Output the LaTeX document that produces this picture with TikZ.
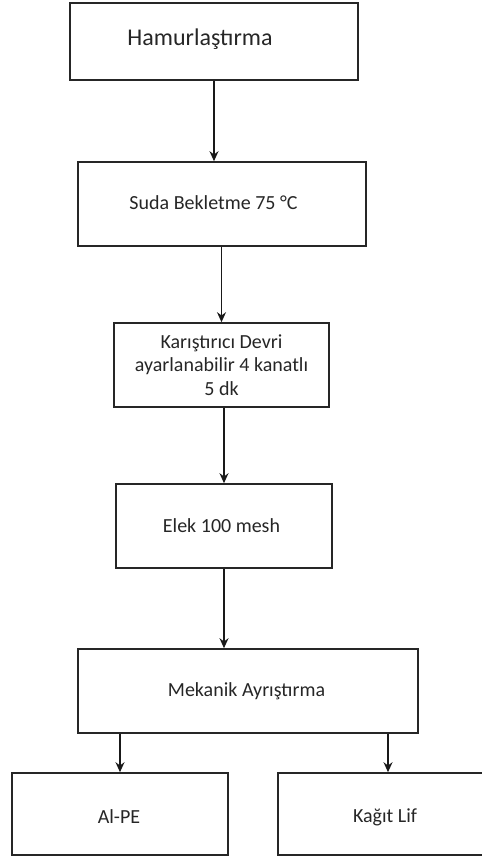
\documentclass[tikz,border=0pt]{standalone}
\usepackage{fontspec}
\setmainfont{Carlito}
\usetikzlibrary{arrows.meta,calc}
\begin{document}
\begin{tikzpicture}[x=1pt,y=1pt,
  box/.style={draw=black!85, line width=1.6pt, inner sep=0pt},
  lbl/.style={text=black!85, font=\fontsize{20}{23.5}\selectfont, align=center, inner sep=0pt},
  arr/.style={draw=black!90, line width=1.5pt, -{Stealth[length=10pt,width=9pt]}}]
\useasboundingbox (0,0) rectangle (482,-857);
\clip (0,0) rectangle (482,-857);
\node[box, minimum width=288, minimum height=77] (b1) at (214,-41.5) {};
\node[lbl, font=\fontsize{24}{28}\selectfont] (t1) at (200,-39) {Hamurlaştırma};
\node[box, minimum width=288, minimum height=84] (b2) at (222,-204) {};
\node[lbl] (t2) at (213.5,-203) {Suda Bekletme 75 °C};
\node[box, minimum width=215, minimum height=84] (b3) at (221.5,-365) {};
\node[lbl] (t3) at (221.5,-365) {Karıştırıcı Devri\\ayarlanabilir 4 kanatlı\\5 dk};
\node[box, minimum width=216, minimum height=84] (b4) at (224,-526) {};
\node[lbl] (t4) at (221.5,-526) {Elek 100 mesh};
\node[box, minimum width=340, minimum height=84] (b5) at (248,-691) {};
\node[lbl] (t5) at (246.5,-691) {Mekanik Ayrıştırma};
\node[box, minimum width=216, minimum height=82] (c1) at (120,-814) {};
\node[lbl] (t6) at (119,-817) {Al-PE};
\node[box, minimum width=240, minimum height=82] (c2) at (398,-814) {};
\node[lbl] (t7) at (385,-817) {Kağıt Lif};
\coordinate (c2in) at ($(c2.north)+(-10,0)$);
\draw[arr] (b1.south) -- (b1.south |- b2.north);
\draw[arr] (b3.north |- b2.south) -- (b3.north);
\draw[arr] (b4.north |- b3.south) -- (b4.north);
\draw[arr] (b4.south) -- (b4.south |- b5.north);
\draw[arr] (c1.north |- b5.south) -- (c1.north);
\draw[arr] (c2in |- b5.south) -- (c2in);
\end{tikzpicture}
\end{document}
